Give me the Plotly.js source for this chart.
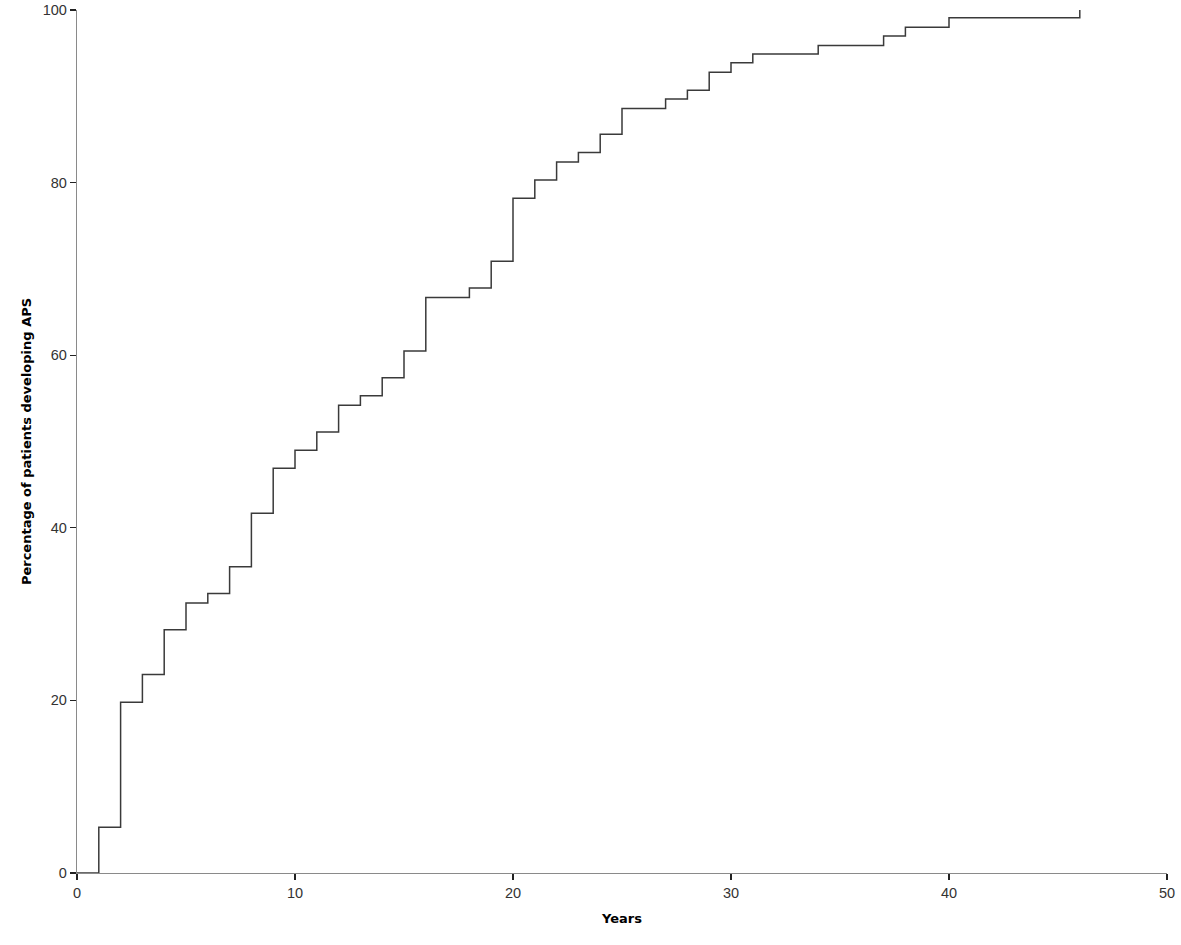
<!DOCTYPE html>
<html>
<head>
<meta charset="utf-8">
<script src="https://cdn.plot.ly/plotly-3.0.1.min.js"></script>
<style>html,body{margin:0;padding:0;background:#fff;}#chart{width:1181px;height:945px;}</style>
</head>
<body>
<div id="chart"></div>
<script>
const years = [0,1,2,3,4,5,6,7,8,9,10,11,12,13,14,15,16,18,19,20,21,22,23,24,25,27,28,29,30,31,34,37,38,40,46];
const percentAPS = [0,5.3,19.8,23.0,28.2,31.3,32.4,35.5,41.7,46.9,49.0,51.1,54.2,55.3,57.4,60.5,66.7,67.8,70.9,78.2,80.3,82.4,83.5,85.6,88.6,89.7,90.7,92.8,93.9,94.9,95.9,97.0,98.0,99.1,100];
const xTicks = [0,10,20,30,40,50];
const yTicks = [0,20,40,60,80,100];

const trace = {
  x: years, y: percentAPS, type: 'scatter', mode: 'lines',
  line: {shape: 'hv', color: '#3a3a3a', width: 1.5},
  hoverinfo: 'x+y', showlegend: false, cliponaxis: false
};

const axisFont = {family: 'Liberation Sans, Arial, sans-serif', size: 14.5, color: '#333'};
const titleFont = {family: 'DejaVu Sans, Verdana, sans-serif', size: 13, color: '#000', weight: 'bold'};
const layout = {
  width: 1181, height: 945,
  margin: {l: 77, r: 14, t: 10, b: 72},
  paper_bgcolor: '#fff', plot_bgcolor: '#fff',
  font: axisFont,
  xaxis: {
    range: [0, 50], tickvals: xTicks, ticktext: xTicks.map(String),
    showgrid: false, zeroline: false, showline: true, linecolor: '#8a8a8a', linewidth: 1.2,
    ticks: 'outside', ticklen: 6, tickcolor: '#222', tickwidth: 1.2,
    tickfont: axisFont, automargin: false,
    title: {text: 'Years', font: titleFont, standoff: 14}
  },
  yaxis: {
    range: [0, 100], tickvals: yTicks, ticktext: yTicks.map(String),
    showgrid: false, zeroline: false, showline: true, linecolor: '#8a8a8a', linewidth: 1.2,
    ticks: 'outside', ticklen: 6, tickcolor: '#222', tickwidth: 1.2, ticklabelstandoff: 0,
    tickfont: axisFont, automargin: false,
    title: {text: 'Percentage of patients developing APS', font: titleFont, standoff: 8}
  }
};
Plotly.newPlot('chart', [trace], layout, {displayModeBar: false, staticPlot: true});
</script>
</body>
</html>
